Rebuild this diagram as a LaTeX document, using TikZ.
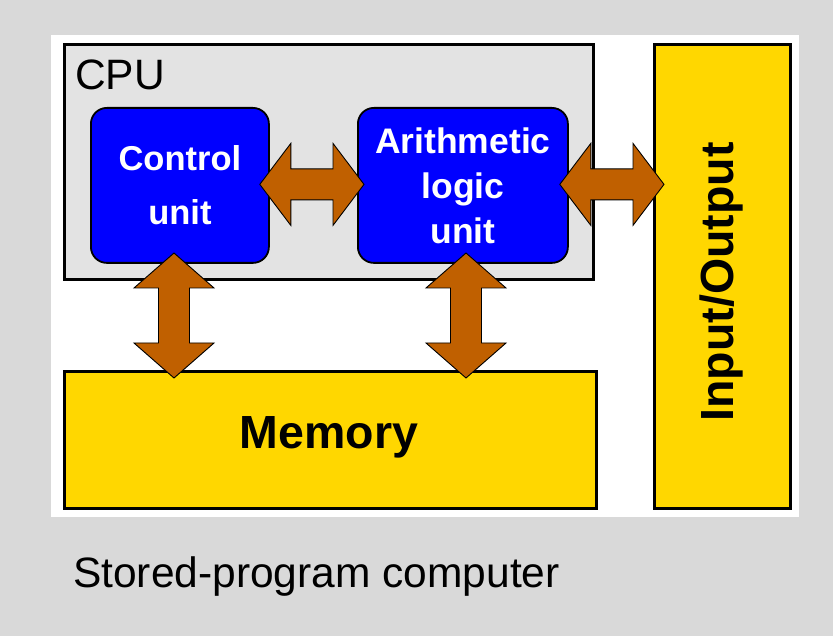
\documentclass[tikz,border=0pt]{standalone}
\usepackage{fontspec}
\setmainfont{Liberation Sans}
\usetikzlibrary{calc}
\definecolor{bggray}{RGB}{217,217,217}
\definecolor{cpugray}{RGB}{227,227,227}
\definecolor{unitblue}{RGB}{0,0,255}
\definecolor{boxyellow}{RGB}{255,215,0}
\definecolor{arrowbrown}{RGB}{192,96,0}
\tikzset{
  cpubox/.style={draw=black, line width=3pt, fill=cpugray, anchor=north west, inner sep=0pt},
  unitbox/.style={draw=black, line width=1.8pt, fill=unitblue, rounded corners=16pt, anchor=north west,
     inner sep=0pt, text=white, align=center, font=\fontsize{34.5}{54}\selectfont\bfseries},
  ybox/.style={draw=black, line width=3pt, fill=boxyellow, anchor=north west, inner sep=0pt},
  bigtext/.style={font=\fontsize{46.5}{50}\selectfont\bfseries, inner sep=0pt},
  plaintext/.style={font=\fontsize{42.5}{48}\selectfont, inner sep=0pt},
  blockarrow/.style={draw=black, line width=0.9pt, fill=arrowbrown, line join=miter},
}
\newcommand\hblockarrow[2]{%
  \path[blockarrow] let \p1=(#1), \p2=(#2) in
   (\x1,\y1) -- (\x1+31pt,\y1+41pt) -- (\x1+31pt,\y1+15.5pt) -- (\x2-31pt,\y1+15.5pt)
   -- (\x2-31pt,\y1+41pt) -- (\x2,\y2) -- (\x2-31pt,\y1-41pt) -- (\x2-31pt,\y1-15.5pt)
   -- (\x1+31pt,\y1-15.5pt) -- (\x1+31pt,\y1-41pt) -- cycle;}
\newcommand\vblockarrow[2]{%
  \path[blockarrow] let \p1=(#1), \p2=(#2) in
   (\x1,\y1) -- (\x1+40pt,\y1-35pt) -- (\x1+15.5pt,\y1-35pt) -- (\x1+15.5pt,\y2+35pt)
   -- (\x1+40pt,\y2+35pt) -- (\x2,\y2) -- (\x1-40pt,\y2+35pt) -- (\x1-15.5pt,\y2+35pt)
   -- (\x1-15.5pt,\y1-35pt) -- (\x1-40pt,\y1-35pt) -- cycle;}
\begin{document}
\begin{tikzpicture}[x=1pt,y=-1pt]
  \path[fill=bggray] (0,0) rectangle (833,636);
  \useasboundingbox (0,0) rectangle (833,636);
  \path[fill=white] (51,35) rectangle (799,517);
  % CPU
  \node[cpubox, minimum width=529pt, minimum height=235pt] (cpu) at (63,43) {};
  \node[plaintext, anchor=base west] (cpulabel) at (75,90) {CPU};
  % units
  \node[unitbox, minimum width=178pt, minimum height=155pt] (cu) at (90,107) {Control\\unit};
  \node[unitbox, minimum width=210pt, minimum height=155pt, font=\fontsize{35.5}{45}\selectfont\bfseries] (alu) at (357,107) {Arithmetic\\logic\\unit};
  % memory and I/O
  \node[ybox, minimum width=532pt, minimum height=137pt] (mem) at (63,370) {};
  \node[bigtext, anchor=base] (memlabel) at (329,448) {Memory};
  \node[ybox, minimum width=136pt, minimum height=464pt] (io) at (653,43) {};
  \node[bigtext, anchor=base, rotate=90] (iolabel) at (733,282) {Input/Output};
  % caption
  \node[plaintext, anchor=base west] (caption) at (73,587) {Stored-program computer};
  % block arrows
  \coordinate (a1l) at ($(cu.east)+(-10,-1)$);
  \coordinate (a1r) at ($(alu.west)+(7,-1)$);
  \coordinate (a2l) at ($(alu.east)+(-9,-1)$);
  \coordinate (a2r) at ($(io.west |- alu.east)+(11,-1)$);
  \coordinate (v1t) at (174,253);
  \coordinate (v1b) at (174,378);
  \coordinate (v2t) at (466,253);
  \coordinate (v2b) at (466,378);
  \hblockarrow{a1l}{a1r}
  \hblockarrow{a2l}{a2r}
  \vblockarrow{v1t}{v1b}
  \vblockarrow{v2t}{v2b}
\end{tikzpicture}
\end{document}
